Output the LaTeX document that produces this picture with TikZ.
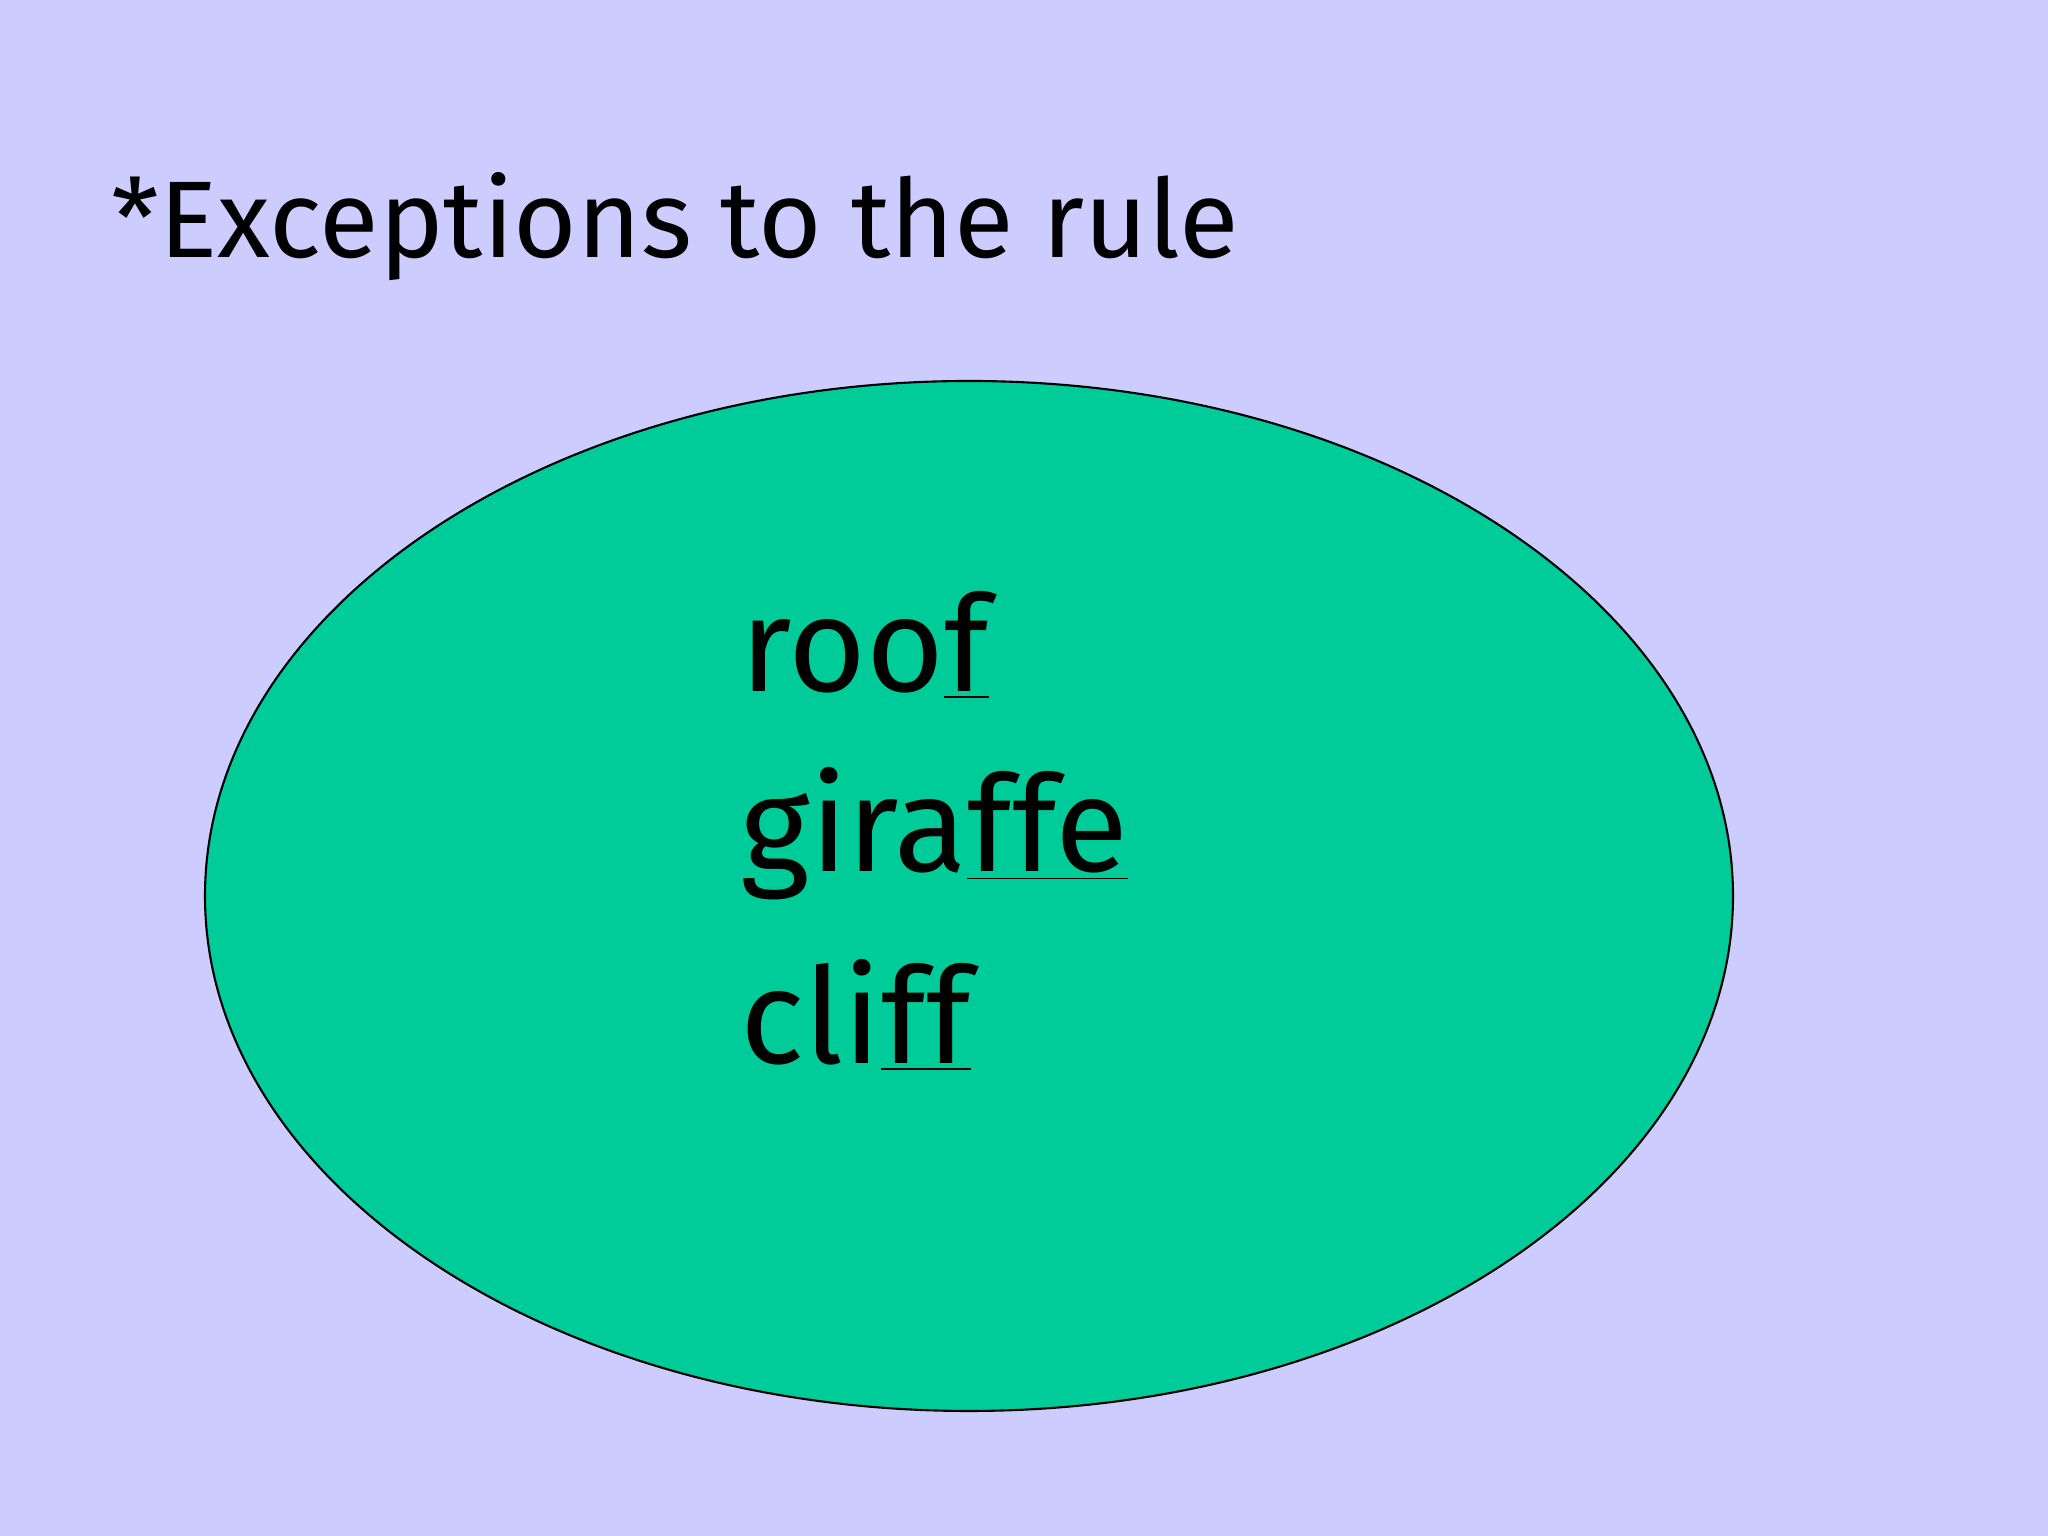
\documentclass[tikz,border=0pt]{standalone}
\usepackage{fontspec}
\setmainfont{Fira Sans}
\definecolor{bg}{HTML}{CCCCFF}
\definecolor{ell}{HTML}{00CC99}
\tikzset{word/.style={anchor=base west,inner sep=0pt,font=\fontsize{38}{40}\selectfont}}
\begin{document}
\begin{tikzpicture}
\fill[bg] (0,0) rectangle (20.48,15.36);
\useasboundingbox (0,0) rectangle (20.48,15.36);
\node[anchor=base west,inner sep=0pt,font=\fontsize{31}{34}\selectfont] (title) at (1.11,12.78) {*Exceptions to the rule};
\draw[fill=ell,draw=black,line width=0.6pt] (9.69,6.40) ellipse [x radius=7.64,y radius=5.15];
\node[word] (w1) at (7.40,8.44) {roo\underline{f}};
\node[word] (w2) at (7.40,6.64) {gira\underline{ffe}};
\node[word] (w3) at (7.40,4.72) {cli\underline{ff}};
\end{tikzpicture}
\end{document}
